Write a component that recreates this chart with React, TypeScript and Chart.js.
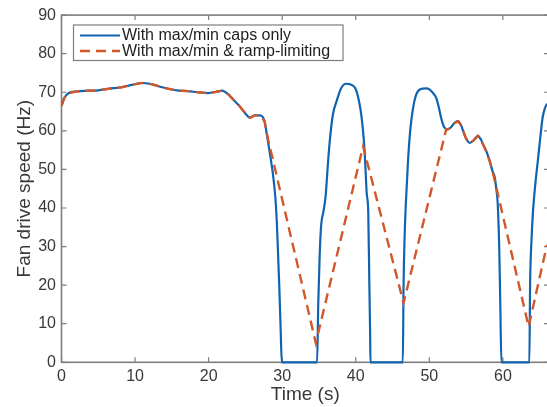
import React, { useEffect, useRef } from "react";
import { Chart, registerables } from "chart.js";

Chart.register(...registerables);

// Series 1: "With max/min caps only"
const capsTime = [
  0, 0.4, 1, 2, 3.6, 5, 6.4, 8.2, 9.5, 10.9, 12.2, 13.3, 14.5, 16, 17.2, 18.5, 19.9, 21, 21.8, 22.7,
  23.4, 24.2, 25, 25.6, 26.3, 27.0, 27.6, 28.0, 28.5, 28.8, 29.1, 29.3, 29.6, 29.8, 29.95, 34.75,
  34.9, 35.1, 35.3, 35.6, 35.9, 36.2, 36.47, 36.9, 37.4, 38.0, 38.7, 39.3, 40.1, 40.8, 41.2, 41.5,
  41.7, 41.85, 41.95, 42.0, 46.4, 46.5, 46.65, 46.8, 47.1, 47.4, 47.8, 48.2, 48.7, 49.6, 50.05, 50.5,
  50.95, 51.3, 51.6, 52.0, 52.5, 52.9, 53.4, 53.9, 54.3, 54.6, 55.0, 55.5, 56.0, 56.6, 57.0, 57.3,
  57.8, 58.2, 58.6, 58.9, 59.1, 59.3, 59.5, 59.65, 59.8, 63.6, 63.7, 63.9, 64.1, 64.4, 64.75, 65.1,
  65.4, 65.7, 66,
];
const capsSpeed = [
  66.5, 68.6, 69.8, 70.2, 70.4, 70.5, 70.9, 71.3, 71.9, 72.4, 72.1, 71.5, 70.9, 70.4, 70.3, 70.0, 69.8, 70.1, 70.4, 69.4,
  68.0, 66.4, 64.5, 63.4, 64.0, 64.0, 62.5, 58, 52, 47.9, 42, 35, 20, 8, 0, 0,
  15, 28, 35.6, 39, 43, 51, 57.4, 64.3, 67.7, 71, 72.2, 72, 70.3, 63.4, 54.8, 43.6,
  39, 20, 8, 0, 0, 20, 33, 40.7, 52, 60, 66, 69.3, 70.7, 71.0, 70.7, 69.8,
  68.5, 66, 63.4, 61, 60.4, 60.8, 62, 62.5, 61.5, 60, 58, 56.9, 57.5, 58.7, 57.8, 56.5,
  54.5, 52.2, 49.5, 47.9, 45, 41.1, 30, 15, 0, 0, 20, 32, 39.3, 46, 52.2, 58.5,
  63.4, 65.8, 67,
];

// Series 2: "With max/min & ramp-limiting"
const rampTime = [
  0, 0.4, 1, 2, 3.6, 5, 6.4, 8.2, 9.5, 10.9, 12.2, 13.3, 14.5, 16, 17.2, 18.5, 19.9, 21, 21.8, 22.7,
  23.4, 24.2, 25, 25.6, 26.3, 27.0, 27.6, 28.0, 34.57, 41.0, 46.5, 52.3, 52.5, 52.9, 53.4, 53.9,
  54.3, 54.6, 55.0, 55.5, 56.0, 56.6, 57.0, 57.3, 57.8, 58.2, 58.6, 63.5, 66,
];
const rampSpeed = [
  66.5, 68.6, 69.8, 70.2, 70.4, 70.5, 70.9, 71.3, 71.9, 72.4, 72.1, 71.5, 70.9, 70.4, 70.3, 70.0, 69.8, 70.1, 70.4, 69.4,
  68.0, 66.4, 64.5, 63.4, 64.0, 64.0, 62.5, 58.5, 5, 56, 15.4, 60.4, 60.4, 60.8, 62, 62.5,
  61.5, 60, 58, 56.9, 57.5, 58.7, 57.8, 56.5, 54.5, 52.2, 49.5, 9.25, 30.5,
];

const seriesLabels = ["With max/min caps only", "With max/min & ramp-limiting"];
const xTickValues = [0, 10, 20, 30, 40, 50, 60];
const yTickValues = [0, 10, 20, 30, 40, 50, 60, 70, 80, 90];

const FONT = "'Liberation Sans', Arial, Helvetica, sans-serif";
const BLUE = "#0f63b0";
const ORANGE = "#d2572a";
const AXIS = "#7d7d7d";
const TEXT = "#383838";

const axesBox = {
  id: "axesBox",
  beforeDatasetsDraw(chart: any) {
    const { ctx, chartArea: a, scales } = chart;
    const x = scales.x;
    const y = scales.y;
    ctx.save();
    ctx.strokeStyle = AXIS;
    ctx.lineWidth = 1.6;
    ctx.strokeRect(a.left, a.top, a.right - a.left, a.bottom - a.top);
    ctx.lineWidth = 1.2;
    ctx.beginPath();
    const tl = 5;
    for (const v of xTickValues) {
      const px = x.getPixelForValue(v);
      ctx.moveTo(px, a.bottom);
      ctx.lineTo(px, a.bottom - tl);
      ctx.moveTo(px, a.top);
      ctx.lineTo(px, a.top + tl);
    }
    for (const v of yTickValues) {
      const py = y.getPixelForValue(v);
      ctx.moveTo(a.left, py);
      ctx.lineTo(a.left + tl, py);
      ctx.moveTo(a.right, py);
      ctx.lineTo(a.right - tl, py);
    }
    ctx.stroke();
    ctx.restore();
  },
};

const innerLegend = {
  id: "innerLegend",
  afterDraw(chart: any) {
    const { ctx } = chart;
    const left = 73.5;
    const top = 25;
    const right = 343;
    const bottom = 60.5;
    ctx.save();
    ctx.fillStyle = "#ffffff";
    ctx.fillRect(left, top, right - left, bottom - top);
    ctx.strokeStyle = AXIS;
    ctx.lineWidth = 1.2;
    ctx.strokeRect(left, top, right - left, bottom - top);
    const rows = [35.5, 51];
    chart.data.datasets.forEach((ds: any, i: number) => {
      const yy = rows[i];
      ctx.beginPath();
      ctx.strokeStyle = ds.borderColor;
      ctx.lineWidth = ds.borderWidth;
      ctx.setLineDash(ds.borderDash || []);
      ctx.moveTo(80, yy);
      ctx.lineTo(120, yy);
      ctx.stroke();
      ctx.setLineDash([]);
      ctx.fillStyle = "#1e1e1e";
      ctx.font = `16px ${FONT}`;
      ctx.textBaseline = "middle";
      ctx.textAlign = "left";
      ctx.fillText(ds.label, 122, yy + 0.5);
    });
    ctx.restore();
  },
};

export default function App() {
  const ref = useRef<HTMLCanvasElement | null>(null);

  useEffect(() => {
    if (!ref.current) return;
    const chart = new Chart(ref.current, {
      type: "line",
      data: {
        datasets: [
          {
            label: seriesLabels[0],
            data: capsTime.map((t, i) => ({ x: t, y: capsSpeed[i] })),
            borderColor: BLUE,
            borderWidth: 2.2,
            pointRadius: 0,
            cubicInterpolationMode: "monotone",
            fill: false,
            order: 1,
            clip: { left: 0, top: 0, right: 0, bottom: 3 } as any,
          },
          {
            label: seriesLabels[1],
            data: rampTime.map((t, i) => ({ x: t, y: rampSpeed[i] })),
            borderColor: ORANGE,
            borderWidth: 2.4,
            borderDash: [10, 6],
            pointRadius: 0,
            tension: 0,
            fill: false,
            order: 0,
            clip: { left: 0, top: 0, right: 0, bottom: 3 } as any,
          },
        ],
      },
      options: {
        animation: false,
        responsive: false,
        devicePixelRatio: 1,
        parsing: false as any,
        layout: { padding: { top: 12.2, left: 0, right: 0, bottom: 0 } },
        plugins: {
          legend: { display: false },
          tooltip: { enabled: false },
        },
        scales: {
          x: {
            type: "linear",
            min: 0,
            max: 66.27,
            afterBuildTicks: (s: any) => {
              s.ticks = xTickValues.map((v) => ({ value: v }));
            },
            afterFit: (s: any) => {
              s.height = 44.7;
            },
            grid: { display: false, drawTicks: false },
            border: { display: false },
            ticks: {
              font: { family: FONT, size: 16 },
              color: TEXT,
              padding: 5,
              maxRotation: 0,
              autoSkip: false,
            },
            title: {
              display: true,
              text: "Time (s)",
              font: { family: FONT, size: 19 },
              color: TEXT,
              padding: { top: 0, bottom: 1 },
            },
          },
          y: {
            type: "linear",
            min: 0,
            max: 90,
            afterBuildTicks: (s: any) => {
              s.ticks = yTickValues.map((v) => ({ value: v }));
            },
            afterFit: (s: any) => {
              s.width = 61.5;
            },
            grid: { display: false, drawTicks: false },
            border: { display: false },
            ticks: {
              font: { family: FONT, size: 16 },
              color: TEXT,
              padding: 5.5,
              autoSkip: false,
            },
            title: {
              display: true,
              text: "Fan drive speed (Hz)",
              font: { family: FONT, size: 19 },
              color: TEXT,
              padding: { top: 13.6, bottom: 0 },
            },
          },
        },
      },
      plugins: [axesBox, innerLegend],
    });
    return () => chart.destroy();
  }, []);

  return (
    <div
      style={{
        position: "absolute",
        left: 0,
        top: 0,
        width: 547,
        height: 407,
        overflow: "hidden",
        background: "#ffffff",
      }}
    >
      <canvas ref={ref} width={549} height={407} style={{ display: "block" }} />
    </div>
  );
}
